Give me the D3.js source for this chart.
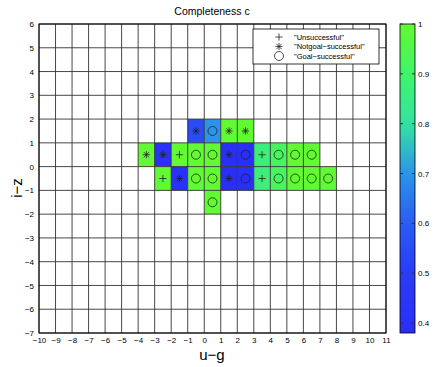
<!DOCTYPE html>
<html>
<head>
<meta charset="utf-8">
<script src="https://cdn.jsdelivr.net/npm/d3@7"></script>
<style>
  body { margin: 0; background: #fff; }
  text { font-family: "Liberation Sans", Arial, sans-serif; fill: #000; }
</style>
</head>
<body>
<script>
// cell lower-left corners (u-g, i-z), completeness value, outcome marker
var cellU = [-1, 0, 1, 2,
  -4, -3, -2, -1, 0, 1, 2, 3, 4, 5, 6,
  -3, -2, -1, 0, 1, 2, 3, 4, 5, 6, 7,
  0];
var cellIZ = [1, 1, 1, 1,
  0, 0, 0, 0, 0, 0, 0, 0, 0, 0, 0,
  -1, -1, -1, -1, -1, -1, -1, -1, -1, -1, -1,
  -2];
var cellC = [0.55, 0.7, 1, 1,
  1, 0.4, 1, 1, 1, 0.38, 0.38, 0.87, 0.92, 1, 1,
  1, 0.4, 1, 1, 0.38, 0.38, 0.87, 0.92, 1, 1, 1,
  1];
var cellOutcome = ["*", "o", "*", "*",
  "*", "*", "+", "o", "o", "*", "o", "+", "o", "o", "o",
  "+", "*", "o", "o", "*", "o", "+", "o", "o", "o", "o",
  "o"];

var xTicks = d3.range(-10, 12);
var yTicks = d3.range(-7, 7);
var cbTicks = [0.4, 0.5, 0.6, 0.7, 0.8, 0.9, 1];
var legendLabels = ['"Unsuccessful"', '"Notgoal\u2212successful"', '"Goal\u2212successful"'];
var legendMarks = ["+", "*", "o"];

var width = 436, height = 367;
var svg = d3.select("body").append("svg").attr("width", width).attr("height", height);

var x = d3.scaleLinear().domain([-10, 11]).range([39, 386]);
var y = d3.scaleLinear().domain([-7, 6]).range([333, 24]);

var cmap = d3.scaleLinear()
  .domain([0.38, 0.5, 0.6, 0.7, 0.8, 0.9, 1.0])
  .range(["#2a2ff8", "#2a3cf6", "#2a5cf4", "#2b94ea", "#33e4a0", "#40f46a", "#62fa32"]);

// cells
var cells = cellU.map(function(u, i) {
  return {u: u, iz: cellIZ[i], c: cellC[i], m: cellOutcome[i]};
});

svg.append("g").selectAll("rect").data(cells).enter().append("rect")
  .attr("x", function(d) { return x(d.u); })
  .attr("y", function(d) { return y(d.iz + 1); })
  .attr("width", function(d) { return x(d.u + 1) - x(d.u); })
  .attr("height", function(d) { return y(d.iz) - y(d.iz + 1); })
  .attr("fill", function(d) { return cmap(d.c); });

// grid
var grid = svg.append("g").attr("stroke", "#333").attr("stroke-width", 0.9);
grid.selectAll("line.v").data(xTicks).enter().append("line")
  .attr("x1", function(d) { return x(d); }).attr("x2", function(d) { return x(d); })
  .attr("y1", y(-7)).attr("y2", y(6));
grid.selectAll("line.h").data(yTicks).enter().append("line")
  .attr("y1", function(d) { return y(d); }).attr("y2", function(d) { return y(d); })
  .attr("x1", x(-10)).attr("x2", x(11));

svg.append("rect").attr("x", x(-10)).attr("y", y(6))
  .attr("width", x(11) - x(-10)).attr("height", y(-7) - y(6))
  .attr("fill", "none").attr("stroke", "#000").attr("stroke-width", 1);

function drawMarker(g, type, cx, cy) {
  var s = g.append("g").attr("stroke", "#222").attr("stroke-width", 0.8).attr("fill", "none");
  if (type == "o") {
    s.append("circle").attr("cx", cx).attr("cy", cy).attr("r", 4.5);
  } else {
    var r = 3.6;
    s.append("line").attr("x1", cx - r).attr("x2", cx + r).attr("y1", cy).attr("y2", cy);
    s.append("line").attr("x1", cx).attr("x2", cx).attr("y1", cy - r).attr("y2", cy + r);
    if (type == "*") {
      var q = 2.6;
      s.append("line").attr("x1", cx - q).attr("x2", cx + q).attr("y1", cy - q).attr("y2", cy + q);
      s.append("line").attr("x1", cx - q).attr("x2", cx + q).attr("y1", cy + q).attr("y2", cy - q);
    }
  }
}

var markG = svg.append("g");
cells.forEach(function(d) {
  drawMarker(markG, d.m, x(d.u + 0.5), y(d.iz + 0.5));
});

// axes
var xAxis = d3.axisBottom(x).tickValues(xTicks).tickSize(0).tickPadding(4)
  .tickFormat(function(d) { return String(d).replace("-", "\u2212"); });
var gx = svg.append("g").attr("transform", "translate(0," + y(-7) + ")").call(xAxis);
gx.select(".domain").remove();
gx.selectAll("text").attr("font-size", 8).attr("fill", "#000");

var yAxis = d3.axisLeft(y).tickValues(yTicks).tickSize(0).tickPadding(5)
  .tickFormat(function(d) { return String(d).replace("-", "\u2212"); });
var gy = svg.append("g").attr("transform", "translate(" + x(-10) + ",0)").call(yAxis);
gy.select(".domain").remove();
gy.selectAll("text").attr("font-size", 8).attr("fill", "#000");

// titles
svg.append("text").attr("x", 212).attr("y", 15).attr("text-anchor", "middle")
  .attr("font-size", 10.5).text("Completeness c");
svg.append("text").attr("x", 212).attr("y", 360).attr("text-anchor", "middle")
  .attr("font-size", 15).text("u\u2212g");
svg.append("text").attr("transform", "translate(22,188) rotate(-90)").attr("text-anchor", "middle")
  .attr("font-size", 15).text("i\u2212z");

// legend
var lg = svg.append("g");
lg.append("rect").attr("x", 253).attr("y", 29).attr("width", 126).attr("height", 35)
  .attr("fill", "#fff").attr("stroke", "#000").attr("stroke-width", 0.8);
legendLabels.forEach(function(t, i) {
  var cy = 37 + i * 9.5;
  drawMarker(lg, legendMarks[i], 279, cy);
  lg.append("text").attr("x", 294).attr("y", cy + 2.7).attr("font-size", 7.5).text(t);
});

// colorbar
var cbY = d3.scaleLinear().domain([0.38, 1]).range([333, 24]);
var defs = svg.append("defs");
var grad = defs.append("linearGradient").attr("id", "cb").attr("x1", 0).attr("y1", 1).attr("x2", 0).attr("y2", 0);
d3.range(0, 1.0001, 0.05).forEach(function(t) {
  var v = 0.38 + t * 0.62;
  grad.append("stop").attr("offset", t).attr("stop-color", cmap(v));
});
svg.append("rect").attr("x", 400).attr("y", cbY(1)).attr("width", 15).attr("height", cbY(0.38) - cbY(1))
  .attr("fill", "url(#cb)").attr("stroke", "#000").attr("stroke-width", 0.8);
var cbg = svg.append("g");
cbTicks.forEach(function(v) {
  cbg.append("line").attr("x1", 400).attr("x2", 403).attr("y1", cbY(v)).attr("y2", cbY(v)).attr("stroke", "#333");
  cbg.append("line").attr("x1", 412).attr("x2", 415).attr("y1", cbY(v)).attr("y2", cbY(v)).attr("stroke", "#333");
  cbg.append("text").attr("x", 418).attr("y", cbY(v) + 3).attr("font-size", 8).text(String(v));
});
</script>
</body>
</html>
